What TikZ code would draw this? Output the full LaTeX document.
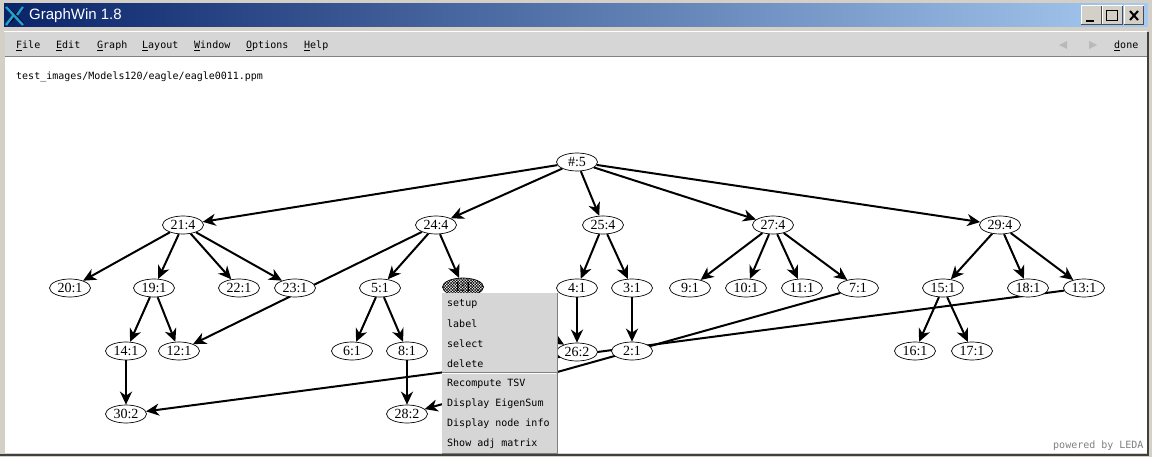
\documentclass[tikz,border=0pt]{standalone}
\usepackage{fontspec}
\setmainfont{Liberation Serif}
\setsansfont{Liberation Sans}
\setmonofont{DejaVu Sans Mono}
\usepackage{tikz}
\usetikzlibrary{shapes.geometric,arrows.meta,backgrounds,patterns.meta}
\definecolor{winface}{HTML}{D4D0C8}
\definecolor{panel}{HTML}{D6D6D6}
\definecolor{navy}{RGB}{10,36,106}
\definecolor{sky}{RGB}{166,202,240}
\begin{document}
\begin{tikzpicture}[
  x=1pt,
  y=-1pt,
  graphnode/.style = {shape=ellipse, draw, line width=.7pt, fill=white, minimum width=41pt, minimum height=18pt, inner sep=0pt, font=\fontsize{14}{14}\selectfont},
  treeedge/.style = {line width=2pt, -{Stealth[length=13pt,width=12pt,inset=4pt]}},
  screentext/.style = {anchor=west, inner sep=0pt, font=\fontsize{10}{10}\ttfamily},
  winbutton/.style = {fill=winface, minimum height=18pt, inner sep=0pt}
]
  \useasboundingbox (0,0) rectangle (1152,457);

  \node[graphnode] (root) at (577,162) {\#:5};
  \node[graphnode] (n21) at (183,225) {21:4};
  \node[graphnode] (n24) at (436,225) {24:4};
  \node[graphnode] (n25) at (603,225) {25:4};
  \node[graphnode] (n27) at (773,225) {27:4};
  \node[graphnode] (n29) at (1000,225) {29:4};
  \node[graphnode] (n20) at (70,288) {20:1};
  \node[graphnode] (n19) at (154,288) {19:1};
  \node[graphnode] (n22) at (239,288) {22:1};
  \node[graphnode] (n23) at (295,288) {23:1};
  \node[graphnode] (n5) at (380,288) {5:1};
  \node[graphnode, pattern={Hatch[angle=45,distance=2pt,line width=.55pt]}] (n1) at (463,287) {1:1};
  \node[graphnode] (n4) at (577,288) {4:1};
  \node[graphnode] (n3) at (632,288) {3:1};
  \node[graphnode] (n9) at (690,288) {9:1};
  \node[graphnode] (n10) at (746,288) {10:1};
  \node[graphnode] (n11) at (802,288) {11:1};
  \node[graphnode] (n7) at (858,288) {7:1};
  \node[graphnode] (n15) at (943,288) {15:1};
  \node[graphnode] (n18) at (1028,288) {18:1};
  \node[graphnode] (n13) at (1084,288) {13:1};
  \node[graphnode] (n14) at (126,351) {14:1};
  \node[graphnode] (n12) at (179,351) {12:1};
  \node[graphnode] (n6) at (352,351) {6:1};
  \node[graphnode] (n8) at (407,351) {8:1};
  \node[graphnode] (n26) at (577,352) {26:2};
  \node[graphnode] (n2) at (632,351) {2:1};
  \node[graphnode] (n16) at (915,351) {16:1};
  \node[graphnode] (n17) at (972,351) {17:1};
  \node[graphnode] (n30) at (126,414) {30:2};
  \node[graphnode] (n28) at (407,414) {28:2};

  \begin{pgfonlayer}{background}
    \fill[winface] (0,0) rectangle (1152,457);
    \shade[left color=navy, right color=sky] (4,4) rectangle (1148,27);
    \fill[white] (4,31) rectangle (1147,32);
    \fill[panel] (5,32) rectangle (1147,56);
    \fill[white] (5,57) rectangle (1147,453);
    \draw[gray, line width=1pt] (5,56.5) -- (1147,56.5);
    \draw[black!75, line width=2pt] (1148,32) -- (1148,455) -- (0,455);
    \draw[treeedge] (root) -- (n21);
    \draw[treeedge] (root) -- (n24);
    \draw[treeedge] (root) -- (n25);
    \draw[treeedge] (root) -- (n27);
    \draw[treeedge] (root) -- (n29);
    \draw[treeedge] (n21) -- (n20);
    \draw[treeedge] (n21) -- (n19);
    \draw[treeedge] (n21) -- (n22);
    \draw[treeedge] (n21) -- (n23);
    \draw[treeedge] (n24) -- (n12);
    \draw[treeedge] (n24) -- (n5);
    \draw[treeedge] (n24) -- (n1);
    \draw[treeedge] (n25) -- (n4);
    \draw[treeedge] (n25) -- (n3);
    \draw[treeedge] (n27) -- (n9);
    \draw[treeedge] (n27) -- (n10);
    \draw[treeedge] (n27) -- (n11);
    \draw[treeedge] (n27) -- (n7);
    \draw[treeedge] (n29) -- (n15);
    \draw[treeedge] (n29) -- (n18);
    \draw[treeedge] (n29) -- (n13);
    \draw[treeedge] (n19) -- (n14);
    \draw[treeedge] (n19) -- (n12);
    \draw[treeedge] (n14) -- (n30);
    \draw[treeedge] (n5) -- (n6);
    \draw[treeedge] (n5) -- (n8);
    \draw[treeedge] (n8) -- (n28);
    \draw[treeedge] (n4) -- (n26);
    \draw[treeedge] (n3) -- (n2);
    \draw[treeedge] (n15) -- (n16);
    \draw[treeedge] (n15) -- (n17);
    \draw[treeedge] (n13) -- (n30);
    \draw[treeedge] (n7) -- (n28);
    \draw[treeedge] (n1) -- (n26);
  \end{pgfonlayer}

  \draw[black, line width=3pt] (7,24) -- (23,8) (7,8) -- (23,24);
  \draw[cyan!70!teal, line width=2.4pt] (6,25) -- (13,16) (6,7) -- (23,25) (17,15) -- (23,7);
  \node[anchor=west, inner sep=0pt, text=white, font=\fontsize{15}{15}\sffamily] (title) at (29,16) {GraphWin 1.8};
  \node[winbutton, minimum width=20pt] (minbtn) at (1091.5,15) {};
  \node[winbutton, minimum width=20pt] (maxbtn) at (1112.5,15) {};
  \node[winbutton, minimum width=19pt] (closebtn) at (1134,15) {};
  \draw[white, line width=1pt] (minbtn.south west) |- (minbtn.north east);
  \draw[white, line width=1pt] (maxbtn.south west) |- (maxbtn.north east);
  \draw[white, line width=1pt] (closebtn.south west) |- (closebtn.north east);
  \draw[black!70, line width=1pt] (minbtn.south west) -| (minbtn.north east);
  \draw[black!70, line width=1pt] (maxbtn.south west) -| (maxbtn.north east);
  \draw[black!70, line width=1pt] (closebtn.south west) -| (closebtn.north east);
  \draw[black, line width=2pt] (1086,21) -- (1094,21);
  \draw[black, line width=1pt] (1106.5,10.5) rectangle (1117.5,20.5);
  \draw[black, line width=1.2pt] (1106.5,10.5) -- (1117.5,10.5);
  \draw[black, line width=2pt] (1130,11) -- (1138,20) (1138,11) -- (1130,20);

  \node[screentext] (filemenu) at (16,46) {\underline{F}ile};
  \node[screentext] (editmenu) at (56,46) {\underline{E}dit};
  \node[screentext] (graphmenu) at (97,46) {\underline{G}raph};
  \node[screentext] (layoutmenu) at (142,46) {\underline{L}ayout};
  \node[screentext] (windowmenu) at (194,46) {\underline{W}indow};
  \node[screentext] (optionsmenu) at (246,46) {\underline{O}ptions};
  \node[screentext] (helpmenu) at (304,46) {\underline{H}elp};
  \fill[gray!55] (1059,45) -- (1067,41) -- (1067,49) -- cycle;
  \fill[gray!55] (1097,45) -- (1089,41) -- (1089,49) -- cycle;
  \node[screentext] (done) at (1114,46) {\underline{d}one};
  \node[screentext] (filename) at (16,77) {test\_images/Models120/eagle/eagle0011.ppm};
  \node[screentext, text=gray] (powered) at (1053,445.5) {powered by LEDA};

  \fill[panel] (442,293) rectangle (557,453);
  \draw[gray, line width=1pt] (557,293) -- (557,453) -- (442,453);
  \draw[gray, line width=1pt] (442,372.5) -- (557,372.5);
  \draw[white, line width=1pt] (442,373.5) -- (556,373.5);
  \node[screentext] (setupitem) at (447,304) {setup};
  \node[screentext] (labelitem) at (447,324) {label};
  \node[screentext] (selectitem) at (447,344) {select};
  \node[screentext] (deleteitem) at (447,364) {delete};
  \node[screentext] (recomputeitem) at (447,384) {Recompute TSV};
  \node[screentext] (eigenitem) at (447,404) {Display EigenSum};
  \node[screentext] (infoitem) at (447,424) {Display node info};
  \node[screentext] (adjitem) at (447,444) {Show adj matrix};
\end{tikzpicture}
\end{document}
